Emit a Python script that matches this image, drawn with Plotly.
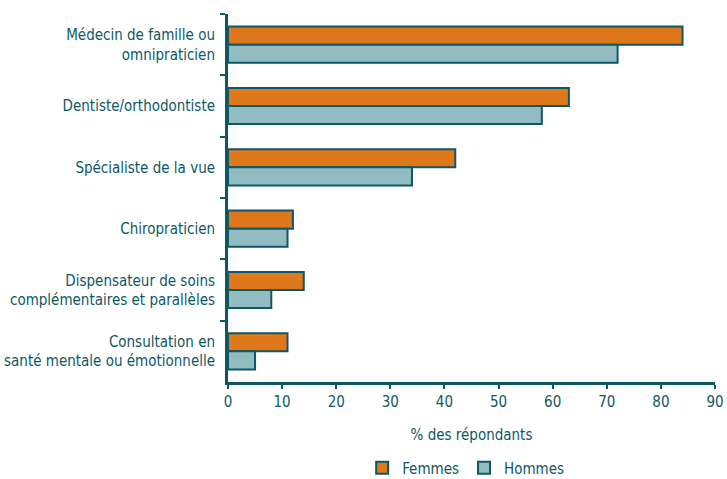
import plotly.graph_objects as go

categories = [
    "Médecin de famille ou<br>omnipraticien",
    "Dentiste/orthodontiste",
    "Spécialiste de la vue",
    "Chiropraticien",
    "Dispensateur de soins<br>complémentaires et parallèles",
    "Consultation en<br>santé mentale ou émotionnelle",
]
femmes = [84, 63, 42, 12, 14, 11]
hommes = [72, 58, 34, 11, 8, 5]
x_ticks = [0, 10, 20, 30, 40, 50, 60, 70, 80, 90]

TEAL = "#0E5866"
ORANGE = "#DE781B"
LIGHT = "#93BCC2"
FONT = "DejaVu Sans Condensed, Liberation Sans Narrow, Roboto, sans-serif"

fig = go.Figure()
fig.add_trace(go.Bar(
    y=categories, x=femmes, name="Femmes", orientation="h",
    marker=dict(color=ORANGE, line=dict(color=TEAL, width=2)),
))
fig.add_trace(go.Bar(
    y=categories, x=hommes, name="Hommes", orientation="h",
    marker=dict(color=LIGHT, line=dict(color=TEAL, width=2)),
))

fig.update_layout(
    width=727, height=479,
    margin=dict(l=228, r=12, t=14, b=97),
    paper_bgcolor="white", plot_bgcolor="white",
    barmode="group", bargap=0.41, bargroupgap=0,
    font=dict(family=FONT, color=TEAL, size=15),
    showlegend=True,
    legend=dict(orientation="h", x=0.488, xanchor="center", xref="paper",
                y=0.023, yref="container", yanchor="middle",
                font=dict(size=15, color=TEAL), traceorder="normal",
                itemwidth=30, tracegroupgap=0),
    xaxis=dict(
        range=[0, 90], tickvals=x_ticks, ticktext=[str(v) for v in x_ticks],
        showgrid=False, zeroline=False, showline=True, linecolor=TEAL, linewidth=3,
        ticks="outside", tickcolor=TEAL, tickwidth=2, ticklen=4,
        tickfont=dict(size=15, color=TEAL), automargin=False,
        title=dict(text="% des répondants", font=dict(size=15, color=TEAL), standoff=20),
    ),
    yaxis=dict(
        autorange="reversed", showgrid=False, zeroline=False,
        showline=True, linecolor=TEAL, linewidth=3, automargin=False,
        ticks="outside", tickson="boundaries", tickcolor=TEAL, tickwidth=2, ticklen=5,
        tickfont=dict(size=15, color=TEAL), ticklabelstandoff=7,
    ),
)

fig.write_html("out.html", config={"displayModeBar": False},
               post_script="document.body.style.margin='0';")
